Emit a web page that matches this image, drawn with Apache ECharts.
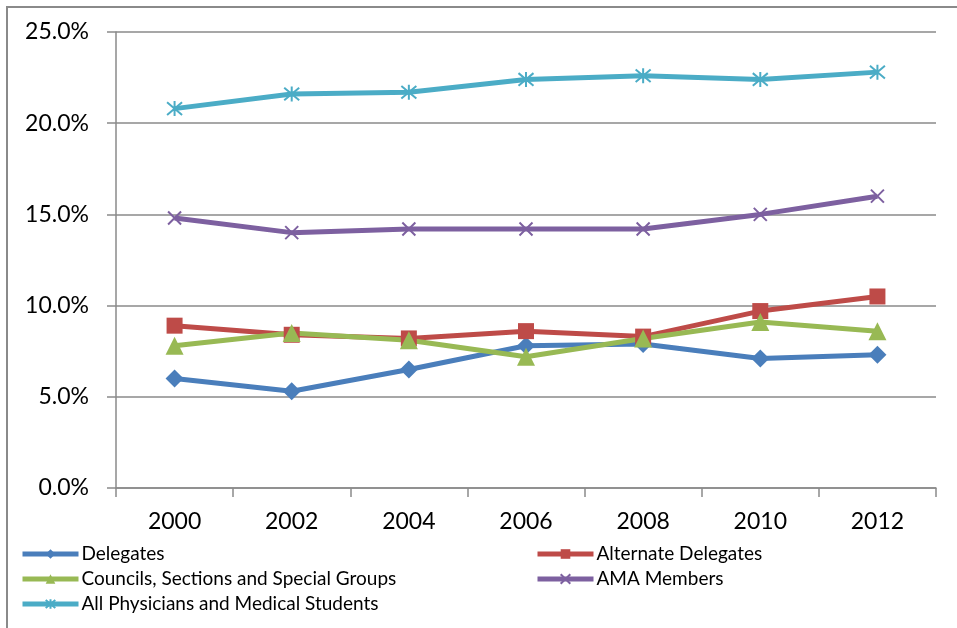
<!DOCTYPE html>
<html>
<head>
<meta charset="utf-8">
<script src="https://cdn.jsdelivr.net/npm/echarts@6/dist/echarts.min.js"></script>
<style>
  html, body { margin: 0; padding: 0; background: #fff; }
  #chart { width: 957px; height: 628px; }
</style>
</head>
<body>
<div id="chart"></div>
<script>
// Share of each group (percent), by year
const years = ['2000', '2002', '2004', '2006', '2008', '2010', '2012'];
const delegates = [6.0, 5.3, 6.5, 7.8, 7.9, 7.1, 7.3];
const alternateDelegates = [8.9, 8.4, 8.2, 8.6, 8.3, 9.7, 10.5];
const councils = [7.8, 8.5, 8.1, 7.2, 8.2, 9.1, 8.6];
const amaMembers = [14.8, 14.0, 14.2, 14.2, 14.2, 15.0, 16.0];
const allPhysicians = [20.8, 21.6, 21.7, 22.4, 22.6, 22.4, 22.8];

const FONT = 'Lato, "Open Sans", sans-serif';
const GRID_GRAY = '#8a8a8a';

const crossPath = 'path://M0,0L10,10M10,0L0,10';
const starPath = 'path://M5,0L5,10M0.8,0.8L9.2,9.2M9.2,0.8L0.8,9.2';

function lineSeries(name, data, color, symbol, size, strokeOnly) {
  return {
    name: name,
    type: 'line',
    data: data,
    symbol: symbol,
    symbolSize: size,
    showAllSymbol: true,
    lineStyle: { color: color, width: 5 },
    itemStyle: strokeOnly
      ? { color: 'none', borderColor: color, borderWidth: 2 }
      : { color: color, borderWidth: 0 },
    emphasis: { disabled: true },
    animation: false
  };
}

const legendBase = {
  orient: 'vertical',
  top: 544,
  padding: 0,
  itemWidth: 56,
  itemHeight: 12,
  itemGap: 5,
  lineStyle: { width: 5 },
  textStyle: { color: '#000', fontFamily: FONT, fontSize: 19, lineHeight: 20, padding: [0, 0, 0, -2] },
  selectedMode: false
};

const chart = echarts.init(document.getElementById('chart'), null, { renderer: 'canvas' });

chart.setOption({
  backgroundColor: '#ffffff',
  animation: false,
  graphic: [{
    type: 'rect',
    shape: { x: 7, y: 7, width: 1000, height: 700 },
    style: { fill: 'none', stroke: '#8a8a8a', lineWidth: 2 },
    silent: true
  }],
  grid: { left: 116, right: 21, top: 32, bottom: 140, containLabel: false },
  xAxis: {
    type: 'category',
    data: years,
    boundaryGap: true,
    axisLine: { lineStyle: { color: GRID_GRAY, width: 1.5 } },
    axisTick: { show: true, length: 9, alignWithLabel: false, lineStyle: { color: GRID_GRAY, width: 1.5 } },
    axisLabel: { color: '#000', fontFamily: FONT, fontSize: 23, margin: 22 },
    splitLine: { show: false }
  },
  yAxis: {
    type: 'value',
    min: 0,
    max: 25,
    interval: 5,
    axisLine: { show: true, lineStyle: { color: GRID_GRAY, width: 1.5 } },
    axisTick: { show: true, length: 9, lineStyle: { color: GRID_GRAY, width: 1.5 } },
    axisLabel: {
      color: '#000', fontFamily: FONT, fontSize: 23, margin: 27,
      formatter: function (v) { return v.toFixed(1) + '%'; }
    },
    splitLine: { show: true, lineStyle: { color: GRID_GRAY, width: 1.5 } }
  },
  legend: [
    Object.assign({}, legendBase, {
      left: 20,
      data: ['Delegates', 'Councils, Sections and Special Groups', 'All Physicians and Medical Students']
    }),
    Object.assign({}, legendBase, {
      left: 535,
      data: ['Alternate Delegates', 'AMA Members']
    })
  ],
  series: [
    lineSeries('Delegates', delegates, '#4a7ebb', 'diamond', 18, false),
    lineSeries('Alternate Delegates', alternateDelegates, '#be4b48', 'rect', 16, false),
    lineSeries('Councils, Sections and Special Groups', councils, '#98b954', 'triangle', 18, false),
    lineSeries('AMA Members', amaMembers, '#7d60a0', crossPath, 13, true),
    lineSeries('All Physicians and Medical Students', allPhysicians, '#4bacc6', starPath, 15, true)
  ]
});
</script>
</body>
</html>
